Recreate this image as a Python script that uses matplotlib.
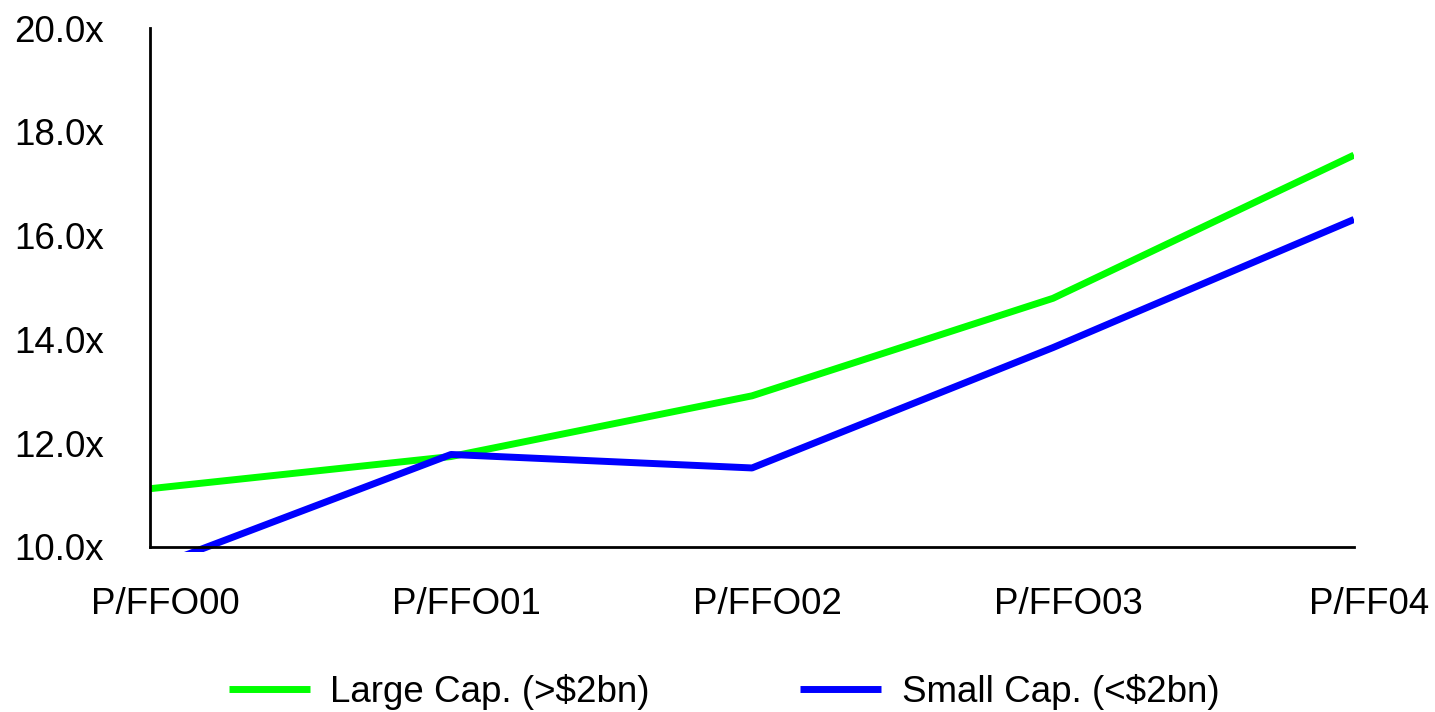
import matplotlib.pyplot as plt
from matplotlib.transforms import ScaledTranslation

# data
categories = ['P/FFO00', 'P/FFO01', 'P/FFO02', 'P/FFO03', 'P/FF04']
large_cap = [11.12, 11.74, 12.91, 14.79, 17.55]
small_cap = [9.58, 11.78, 11.52, 13.84, 16.31]
y_ticks = [10, 12, 14, 16, 18, 20]

plt.rcParams['font.family'] = ['Liberation Sans', 'DejaVu Sans']

fig = plt.figure(figsize=(14.35, 7.12), dpi=100)
ax = fig.add_axes([150 / 1435, 1 - 552 / 712, (1354 - 150) / 1435, (552 - 28) / 712])

x = list(range(len(categories)))
ax.plot(x, large_cap, color='#00ff00', lw=5, label='Large Cap. (>$2bn)', solid_capstyle='butt')
ax.plot(x, small_cap, color='#0000ff', lw=5, label='Small Cap. (<$2bn)', solid_capstyle='butt')

ax.set_xlim(0, len(categories) - 1)
ax.set_ylim(9.9, 20)

for s in ['top', 'right']:
    ax.spines[s].set_visible(False)
ax.spines['bottom'].set_position(('data', 10))
ax.spines['left'].set_bounds(10, 20)
ax.spines['left'].set_linewidth(2)
ax.spines['bottom'].set_linewidth(2)

ax.set_yticks(y_ticks)
ax.set_yticklabels([f'{v:.1f}x' for v in y_ticks])
ax.set_xticks(x)
ax.set_xticklabels(categories)
ax.tick_params(axis='both', length=0, labelsize=26.5)
ax.tick_params(axis='y', pad=33)
ax.tick_params(axis='x', pad=29)

# x labels sit a bit right of their category
offset = ScaledTranslation(15 / 100, 0, fig.dpi_scale_trans)
for lab in ax.get_xticklabels():
    lab.set_transform(lab.get_transform() + offset)

fig.legend(loc='center', bbox_to_anchor=(0.5045, 0.028), ncol=2, frameon=False,
           fontsize=26.5, handlelength=2.2, handletextpad=0.55, columnspacing=4.1,
           borderaxespad=0, borderpad=0)

fig.savefig('out.png', dpi=100)
